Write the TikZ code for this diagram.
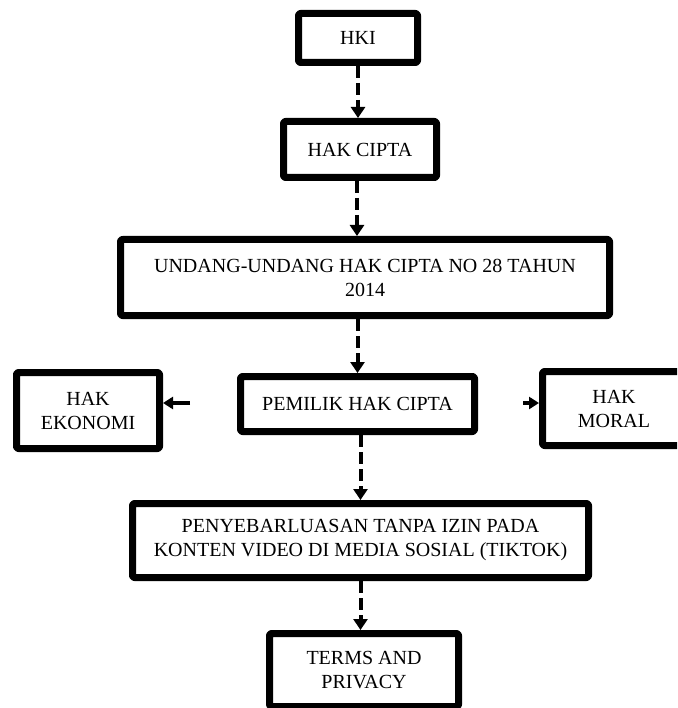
\documentclass[tikz,border=0pt]{standalone}
\usepackage{fontspec}
\setmainfont{Liberation Serif}
\usetikzlibrary{arrows.meta}

\begin{document}
\begin{tikzpicture}[x=1pt, y=-1pt, line join=round,
  kotak/.style={draw=black, line width=7pt, rounded corners=2pt, fill=white,
    inner sep=0pt, align=center, font=\fontsize{20}{24}\selectfont},
  alur/.style={line width=4pt, dash pattern=on 12pt off 5pt,
    -{Triangle[width=14pt, length=11pt]}},
  samping/.style={line width=4pt, -{Triangle[width=12pt, length=10pt]}}]
\useasboundingbox (0,0) rectangle (677,708);
\clip (0,0) rectangle (677,708);

% Main chain of boxes
\node[kotak, minimum width=119pt, minimum height=49pt] (hki) at (358,38) {HKI};
\node[kotak, minimum width=153pt, minimum height=56pt] (hakcipta) at (360,149.5) {HAK CIPTA};
\node[kotak, minimum width=489pt, minimum height=76pt] (undang) at (365,277.5)
  {UNDANG-UNDANG HAK CIPTA NO 28 TAHUN\\2014};
\node[kotak, minimum width=234pt, minimum height=55pt] (pemilik) at (357.5,404) {PEMILIK HAK CIPTA};
\node[kotak, minimum width=456pt, minimum height=74pt] (sebar) at (360.5,540.5)
  {PENYEBARLUASAN TANPA IZIN PADA\\KONTEN VIDEO DI MEDIA SOSIAL (TIKTOK)};
\node[kotak, minimum width=189pt, minimum height=73pt] (terms) at (364,670) {TERMS AND\\PRIVACY};

% Side boxes
\node[kotak, minimum width=143pt, minimum height=76pt] (ekonomi) at (88,410.5) {HAK\\EKONOMI};
\node[kotak, minimum width=143pt, minimum height=74pt] (moral) at (614,408.5) {HAK\\MORAL};

% Dashed arrows down the chain
\draw[alur] (hki.south) -- (hki.south |- hakcipta.north);
\draw[alur] ([xshift=-3pt]hakcipta.south) -- ([xshift=-3pt]hakcipta.south |- undang.north);
\draw[alur] (pemilik.north |- undang.south) -- (pemilik.north);
\draw[alur] (sebar.north |- pemilik.south) -- (sebar.north);
\draw[alur] (sebar.south) -- (sebar.south |- terms.north);

% Short arrows to the side boxes
\coordinate (kiri) at (190,403);
\coordinate (kanan) at (523,403);
\draw[samping] (kiri) -- (kiri -| ekonomi.east);
\draw[samping] (kanan) -- (kanan -| moral.west);
\end{tikzpicture}
\end{document}
